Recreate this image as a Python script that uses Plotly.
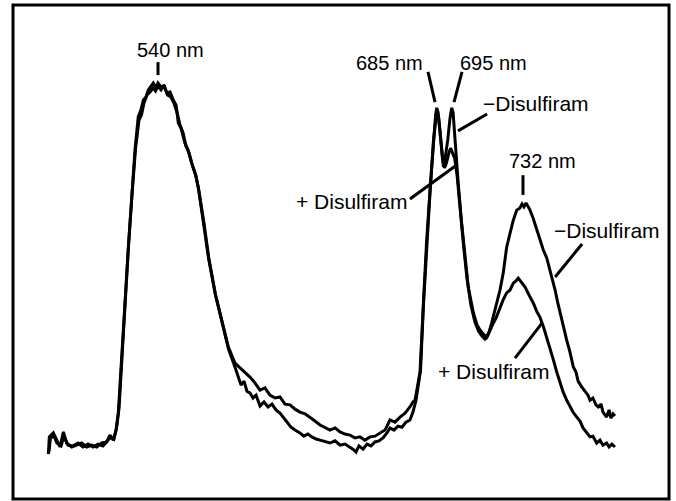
import plotly.graph_objects as go

# Wavelength (nm) and relative fluorescence intensity
minus_wl = [482.3, 482.8, 484.9, 486.7, 488.4, 490.2, 491.9, 494.6, 497.2, 499.8, 502.5, 505.1, 507.7, 510.4,
            513.0, 514.7, 516.5, 517.9, 519.1, 520.9, 522.6, 524.4, 526.2, 527.9, 529.6, 531.0, 532.3, 533.7,
            534.9, 536.3, 537.5, 538.9, 540.0, 541.6, 543.2, 544.7, 546.3, 548.0, 549.5, 550.7, 552.1, 554.2,
            555.8, 557.7, 559.5, 561.2, 563.8, 566.5, 570.0, 573.5, 577.0, 580.5,
            583.2, 585.8, 588.4, 591.0, 593.7, 596.3, 598.9, 601.6, 604.2, 606.8, 609.5, 612.1, 614.7, 617.4,
            620.0, 622.6, 625.3, 627.9, 630.5, 633.2, 635.8, 638.4, 641.1, 643.7, 646.3, 648.9, 651.6, 654.2,
            656.8, 659.5, 662.1, 664.7, 667.4, 670.0, 672.6, 674.2,
            675.3, 676.8, 677.9, 679.6, 681.4, 683.2, 684.9, 686.1, 686.7, 687.4, 688.4, 689.5, 690.2, 691.0,
            692.5, 693.7, 694.6, 695.3, 696.3, 698.0, 699.8, 701.6, 703.3, 706.0, 707.9, 709.5, 711.1, 713.0,
            714.2, 715.6, 716.8, 718.3, 720.0, 721.7, 723.5, 725.3, 727.0, 728.8, 730.5, 731.6, 732.6, 733.7,
            734.7, 735.8, 737.4, 739.3, 741.0, 742.8, 744.6, 746.3, 747.6, 749.0, 750.3, 751.6, 753.2, 755.1,
            756.8, 758.6, 760.0, 761.1, 763.0, 764.7, 766.3, 767.4, 768.9, 770.5, 771.7, 773.2, 774.2, 776.1,
            777.4, 778.4, 779.5, 780.5]
minus_int = [-3.1, 1.7, 2.8, 0.8, -1.1, 3.1, 0.0, -1.1, -0.6, 0.0, -1.1, -0.6, -1.1, 0.0,
             0.3, 2.2, 0.8, 3.6, 8.3, 24.4, 40.6, 54.4, 68.3, 81.4, 90.6, 92.5, 95.3, 96.1,
             98.1, 99.2, 100.0, 98.6, 100.0, 98.9, 99.2, 97.2, 97.5, 95.3, 93.9, 88.9, 87.5, 83.3,
             81.4, 77.8, 75.0, 71.1, 61.9, 51.7, 41.7, 34.2, 26.7, 22.2,
             20.8, 19.7, 18.3, 16.7, 14.7, 15.3, 13.3, 12.5, 12.8, 10.8, 10.6, 9.4, 8.6, 8.1,
             7.2, 6.1, 5.0, 4.4, 3.6, 4.2, 3.1, 2.5, 2.2, 1.4, 1.7, 0.8, 1.7, 1.9,
             2.8, 3.6, 6.4, 5.8, 7.2, 8.3, 10.0, 11.4,
             11.9, 16.1, 19.7, 37.8, 56.4, 70.3, 84.2, 91.1, 93.1, 91.9, 86.9, 80.0, 76.7, 78.6,
             84.2, 90.3, 93.1, 91.9, 84.2, 72.2, 61.1, 51.7, 43.3, 36.1, 32.8, 31.4, 30.3, 29.4,
             30.8, 33.3, 35.6, 38.9, 42.5, 47.2, 54.4, 58.3, 61.9, 64.7, 65.3, 66.4, 65.6, 66.7,
             65.8, 64.7, 62.5, 59.2, 56.9, 53.6, 51.4, 48.1, 45.3, 42.5, 39.2, 36.1, 32.8, 28.6,
             25.3, 21.1, 19.7, 17.2, 15.6, 14.4, 13.3, 11.9, 12.5, 10.6, 10.0, 10.8, 8.6, 7.2,
             9.2, 6.9, 8.1, 7.5]

plus_wl = [482.6, 483.4, 485.3, 486.8, 489.0, 490.5, 492.6, 495.3, 497.9, 500.5, 503.2, 505.8, 508.4, 511.0,
           513.7, 515.3, 516.8, 518.2, 519.5, 521.1, 522.8, 524.5, 526.3, 528.2, 530.0, 531.3, 532.6, 534.2,
           535.8, 537.4, 538.7, 540.0, 541.6, 543.2, 545.0, 546.8, 548.4, 550.0, 551.6, 553.2, 554.7, 556.3,
           558.2, 560.0, 561.6, 564.2, 566.8, 570.3, 573.7, 577.1, 580.5,
           582.1, 583.7, 585.3, 586.8, 588.4, 590.0, 591.6, 593.7, 595.8, 597.9, 600.0, 602.1, 604.2, 606.3,
           608.4, 610.0, 612.1, 614.7, 616.8, 618.9, 621.0, 623.2, 625.3, 627.9, 630.5, 633.2, 635.8, 638.4,
           641.1, 642.6, 644.2, 645.8, 647.9, 650.0, 652.1, 654.2, 656.3, 658.4, 660.5, 662.1, 664.2, 666.3,
           668.4, 670.5, 672.6, 674.2, 675.8, 677.1, 678.2, 679.7, 681.6, 683.3, 685.0, 686.2, 686.8, 687.6,
           688.7, 689.7, 690.8, 691.8, 693.2, 694.0, 695.0, 696.1, 697.4, 699.0, 700.8, 702.6, 704.7, 706.8,
           708.7, 710.5, 712.1, 713.4, 714.7, 716.3, 717.9, 720.0, 721.6, 723.5, 725.3, 727.0, 728.4, 729.6,
           731.0, 733.2, 735.3, 737.5, 739.5, 741.0, 742.9, 744.6, 746.3, 748.1, 749.7, 751.6, 753.2, 755.1,
           756.8, 758.4, 760.4, 762.1, 763.7, 765.6, 767.4, 768.9, 770.9, 772.6, 774.2, 776.1, 777.4, 778.9,
           780.5]
plus_int = [-2.5, 1.4, 1.9, 0.0, -0.8, 1.9, -0.6, -0.8, 0.0, -1.1, -0.3, -1.1, -0.3, -0.8,
            0.8, 1.7, 1.1, 4.2, 9.7, 25.3, 41.1, 55.0, 68.9, 81.9, 89.7, 91.1, 94.4, 96.7,
            97.5, 98.6, 97.8, 99.2, 98.1, 99.4, 96.7, 96.1, 94.4, 91.9, 88.3, 86.1, 82.5, 80.6,
            76.9, 74.2, 69.7, 61.1, 51.1, 41.1, 33.6, 26.1, 21.1,
            18.6, 16.1, 17.2, 14.4, 13.9, 12.5, 13.3, 10.3, 11.4, 10.0, 10.8, 9.2, 8.3, 6.9,
            5.3, 4.4, 3.6, 2.8, 1.9, 2.5, 1.7, 1.1, 0.8, 0.3, 0.0, 0.6, -0.6, -0.3,
            -1.1, -1.7, -2.5, -0.8, -1.7, -0.3, -0.8, 0.3, 0.6, 1.4, 2.8, 4.2, 3.6, 4.7,
            4.4, 5.8, 6.4, 8.6, 11.9, 16.4, 20.3, 38.3, 56.9, 70.8, 84.2, 90.8, 92.5, 90.8,
            85.6, 79.2, 76.4, 77.8, 80.8, 81.9, 80.6, 79.2, 74.4, 64.7, 55.0, 45.8, 38.3, 33.6,
            31.1, 29.7, 28.9, 29.7, 31.4, 33.1, 34.7, 37.8, 39.7, 41.7, 42.5, 44.4, 45.0, 45.8,
            44.7, 43.3, 41.1, 38.9, 36.4, 35.0, 32.2, 29.4, 26.4, 23.1, 20.0, 16.7, 14.2, 11.9,
            10.3, 8.6, 7.2, 6.1, 4.2, 2.8, 1.7, 1.9, 0.0, 0.8, -0.6, 0.0, -1.1, -0.3,
            -1.1]

series_names = ["\u2212Disulfiram", "+ Disulfiram"]

peak_labels = ["540 nm", "685 nm", "695 nm", "732 nm"]

FONT = "Liberation Sans, Arial, sans-serif"

fig = go.Figure()
for wl, inten, name in [(minus_wl, minus_int, series_names[0]), (plus_wl, plus_int, series_names[1])]:
    fig.add_trace(go.Scatter(x=wl, y=inten, mode="lines", name=name,
                             line=dict(color="black", width=3), hoverinfo="skip"))

# label text positions (wavelength, intensity, font size)
label_specs = [
    (peak_labels[0], 546.8, 109.3, 20),
    (peak_labels[1], 661.6, 105.6, 20),
    (peak_labels[2], 716.8, 105.6, 20),
    (peak_labels[3], 742.6, 78.3, 20),
    (series_names[0], 738.9, 94.2, 21),
    (series_names[1], 642.1, 67.2, 21),
    (series_names[0], 776.3, 58.9, 21),
    (series_names[1], 716.8, 20.0, 21),
]
for text, x, y, size in label_specs:
    fig.add_annotation(x=x, y=y, text=text, showarrow=False, xanchor="center", yanchor="middle",
                       font=dict(family=FONT, size=size, color="black"))

# tick marks and leader lines (wavelength, intensity)
segments = [
    (540.0, 105.8, 540.0, 102.2),
    (682.1, 103.1, 685.8, 94.7),
    (700.0, 103.1, 695.8, 94.7),
    (732.1, 74.4, 732.1, 68.9),
    (713.2, 91.4, 697.9, 86.7),
    (672.6, 67.8, 696.3, 76.9),
    (763.2, 55.3, 749.0, 46.1),
    (727.9, 23.6, 742.1, 33.3),
]
for x0, y0, x1, y1 in segments:
    fig.add_shape(type="line", x0=x0, y0=y0, x1=x1, y1=y1, xref="x", yref="y",
                  line=dict(color="black", width=3))

# frame
fig.add_shape(type="rect", xref="paper", yref="paper", x0=13 / 676, x1=669 / 676,
              y0=1 - 499 / 501, y1=1 - 5 / 501, line=dict(color="black", width=3))

fig.update_layout(
    width=676, height=501,
    margin=dict(l=0, r=0, t=0, b=0),
    paper_bgcolor="white", plot_bgcolor="white",
    showlegend=False,
    xaxis=dict(visible=False, range=[456.84, 812.63], fixedrange=True),
    yaxis=dict(visible=False, range=[-16.11, 123.06], fixedrange=True),
)

fig.write_html("out.html", config={"displayModeBar": False},
               post_script="document.body.style.margin='0px';document.body.style.overflow='hidden';")
